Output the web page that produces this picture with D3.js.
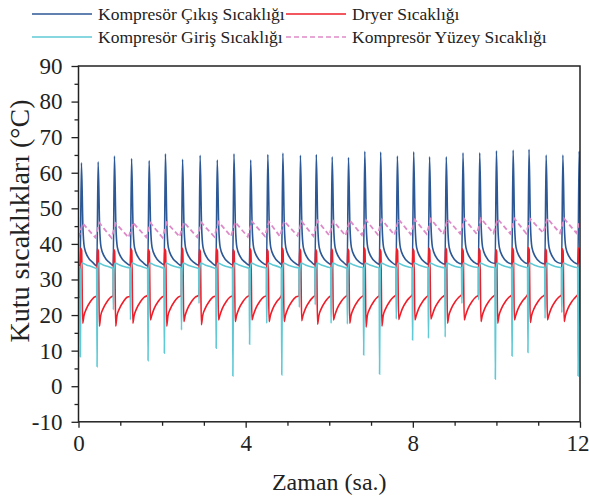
<!DOCTYPE html>
<html><head><meta charset="utf-8">
<script src="https://cdn.jsdelivr.net/npm/d3@7"></script>
<style>
body{margin:0;background:#fff}
svg{display:block}
text{font-family:"Liberation Serif","Times New Roman",serif;fill:#222}
</style>
</head><body>
<svg id="c" width="589" height="496"></svg>
<script>
// ---- data ----
const seriesNames = ["Kompresör Çıkış Sıcaklığı","Dryer Sıcaklığı","Kompresör Giriş Sıcaklığı","Kompresör Yüzey Sıcaklığı"];
const xTicks = [0,4,8,12];
const yTicks = [-10,0,10,20,30,40,50,60,70,80,90];
// compressor start time of each cycle (hours)
const cycleStart = [0.04,0.44,0.83,1.24,1.66,2.05,2.46,2.88,3.29,3.69,4.09,4.50,4.86,5.28,5.66,6.04,6.43,6.82,7.20,7.60,7.99,8.37,8.77,9.17,9.57,9.97,10.37,10.75,11.16,11.56,11.95];
// Kompresör Çıkış: peak per cycle, value just before each start
const outletPeak = [62.8,63.1,64.7,64.0,63.4,65.3,63.8,64.9,63.6,65.3,63.6,65.1,65.5,64.9,65.1,64.5,64.3,66.0,65.8,64.7,65.9,64.5,64.5,65.6,65.6,66.2,66.4,66.6,65.0,65.0,66.1];
const outletBase = [34.0,33.8,33.9,34.0,33.8,34.1,33.9,34.0,33.9,34.1,34.0,34.1,34.2,34.0,34.1,34.2,34.0,34.3,34.2,34.1,34.3,34.2,34.3,34.4,34.3,34.5,34.4,34.5,34.4,34.5,34.4];
const outletRise = 0.03;
const outletTailDt = [0.065,0.10,0.18,0.30];
const outletTailV  = [45.0,39.0,36.4,34.8];
// Dryer
const dryerTop  = [38.8,38.6,38.5,38.7,38.4,38.6,38.9,38.5,38.6,38.4,38.7,38.5,38.8,38.6,38.5,38.7,38.6,38.9,38.5,38.7,38.6,38.8,38.9,38.6,38.7,38.5,38.8,39.0,38.6,38.7,38.8];
const dryerMin  = [17.7,16.9,16.9,17.7,18.6,16.9,18.2,17.3,18.6,18.2,18.6,18.2,18.2,18.4,17.4,18.6,17.7,16.6,16.9,18.8,18.6,18.9,17.7,18.6,18.2,17.7,18.6,17.9,18.6,18.2,16.8];
const dryerBase = [25.0,25.4,25.5,25.3,25.6,25.4,25.5,25.6,25.4,25.5,25.6,25.5,25.7,25.4,25.6,25.5,25.7,25.6,25.5,25.7,25.8,25.6,25.7,25.8,25.6,25.8,25.7,25.9,25.8,25.7,25.9];
const dryerSpikeDt = [0.008,0.035,0.06];
const dryerRecDt = [0.09,0.15,0.25,0.33];
const dryerRecV  = [19.8,21.8,23.9,25.0];
// Kompresör Giriş
const inletDip  = [8.3,5.5,21.5,18.7,7.2,9.3,15.8,23.3,10.7,2.9,11.8,17.7,3.2,22.2,22.9,17.7,17.5,8.8,3.4,18.9,13.0,13.5,13.8,23.3,24.3,2.0,8.5,9.5,19.1,20.7,2.9];
const inletBase = [33.1,33.0,33.1,33.2,33.0,33.1,33.2,33.1,33.0,33.2,33.1,33.2,33.1,33.2,33.3,33.2,33.1,33.3,33.2,33.3,33.2,33.3,33.2,33.3,33.4,33.3,33.2,33.3,33.4,33.3,33.3];
const inletAfterDt = [0.02,0.045,0.15,0.30];
const inletAfterV  = [32.8,34.6,34.1,33.5];
// Kompresör Yüzey
const surfacePeak   = [45.8,45.9,45.8,46.0,45.9,46.0,46.1,46.0,46.2,46.1,46.3,46.2,46.4,46.3,46.5,46.4,46.6,46.7,46.8,46.9,46.8,47.0,46.9,47.0,47.1,47.0,47.1,47.0,47.2,47.1,47.0];
const surfaceTrough = [41.7,41.8,41.7,41.8,41.9,41.8,42.0,41.9,42.0,42.1,42.0,42.2,42.1,42.3,42.2,42.4,42.3,42.5,42.6,42.5,42.7,42.8,42.7,42.9,42.8,43.0,42.9,43.0,43.1,43.0,43.1];

const colors = {outlet:"#2c5896", dryer:"#ee1f2a", inlet:"#5fcad6", surface:"#de8ac8"};

// ---- build point lists from the read values ----
const outletPts = [[0, outletBase[0]]];
const dryerPts = [[0, dryerBase[0]]];
const inletPts = [[0, inletBase[0]]];
const surfacePts = [[0, surfaceTrough[0]]];
cycleStart.forEach((t0,i)=>{
  outletPts.push([t0, outletBase[i]], [t0+outletRise, outletPeak[i]]);
  outletTailDt.forEach((dt,k)=>outletPts.push([t0+dt, outletTailV[k]]));
  dryerPts.push([t0, dryerBase[i]], [t0+dryerSpikeDt[0], dryerTop[i]], [t0+dryerSpikeDt[1], dryerTop[i]-0.6], [t0+dryerSpikeDt[2], dryerMin[i]]);
  dryerRecDt.forEach((dt,k)=>dryerPts.push([t0+dt, dryerRecV[k]]));
  inletPts.push([t0-0.006, inletBase[i]], [t0+0.004, inletDip[i]]);
  inletAfterDt.forEach((dt,k)=>inletPts.push([t0+dt, inletAfterV[k]]));
  if (i>0) surfacePts.push([t0-0.04, surfaceTrough[i]]);
  surfacePts.push([t0+0.06, surfacePeak[i]]);
});

// ---- chart ----
const svg = d3.select("#c");
const x = d3.scaleLinear().domain([0,12]).range([78.5,580]);
const y = d3.scaleLinear().domain([-10,90]).range([421.8,66]);

svg.append("clipPath").attr("id","clip").append("rect")
  .attr("x",x(0)).attr("y",y(90)).attr("width",x(12)-x(0)).attr("height",y(-10)-y(90));

const g = svg.append("g").attr("clip-path","url(#clip)");
const lineS = d3.line().x(d=>x(d[0])).y(d=>y(d[1])).curve(d3.curveMonotoneX);
const lineL = d3.line().x(d=>x(d[0])).y(d=>y(d[1]));

g.append("path").attr("d",lineS(outletPts)).attr("fill","none").attr("stroke",colors.outlet).attr("stroke-width",1.6);
g.append("path").attr("d",lineS(dryerPts)).attr("fill","none").attr("stroke",colors.dryer).attr("stroke-width",1.6);
g.append("path").attr("d",lineS(inletPts)).attr("fill","none").attr("stroke",colors.inlet).attr("stroke-width",1.6);
g.append("path").attr("d",lineL(surfacePts)).attr("fill","none").attr("stroke",colors.surface).attr("stroke-width",1.8).attr("stroke-dasharray","5,3");

// axes
const fmt = d => String(d);
const yMinor = d3.range(-10,91,5).filter(v=>v%10!==0);
svg.append("g").attr("transform",`translate(${x(0)},0)`)
  .call(d3.axisLeft(y).tickValues(yTicks).tickSize(7).tickPadding(9).tickFormat(fmt));
svg.append("g").attr("transform",`translate(${x(0)},0)`)
  .call(d3.axisLeft(y).tickValues(yMinor).tickSize(4).tickFormat(""));
const bx = svg.append("g").attr("transform",`translate(0,${y(-10)})`)
  .call(d3.axisBottom(x).tickValues(xTicks).tickSize(6).tickPadding(7).tickFormat(fmt));
svg.append("g").attr("transform",`translate(0,${y(-10)})`)
  .call(d3.axisBottom(x).tickValues(d3.range(0,13,1).filter(v=>v%4!==0)).tickSize(4).tickFormat(""));
svg.selectAll(".domain").remove();
svg.selectAll(".tick line").attr("stroke","#222").attr("stroke-width",1.3);
svg.selectAll(".tick text").attr("font-size",23).attr("fill","#222");
// keep the last x label inside the canvas
bx.selectAll(".tick text").filter(d=>d===12).attr("text-anchor","end").attr("x",9);

svg.append("rect").attr("x",x(0)).attr("y",y(90)).attr("width",x(12)-x(0)).attr("height",y(-10)-y(90))
  .attr("fill","none").attr("stroke","#222").attr("stroke-width",1.5);

svg.append("text").attr("x",(x(0)+x(12))/2).attr("y",490).attr("text-anchor","middle")
  .attr("font-size",24).text("Zaman (sa.)");
svg.append("text").attr("transform","translate(29,221) rotate(-90)").attr("text-anchor","middle")
  .attr("font-size",28).text("Kutu sıcaklıkları (°C)");

// legend
const leg = [
  {name:seriesNames[0], c:colors.outlet, dash:null, lx:32, ly:14},
  {name:seriesNames[1], c:colors.dryer, dash:null, lx:286, ly:14},
  {name:seriesNames[2], c:colors.inlet, dash:null, lx:32, ly:37},
  {name:seriesNames[3], c:colors.surface, dash:"5,3", lx:286, ly:37}
];
leg.forEach(l=>{
  svg.append("line").attr("x1",l.lx).attr("x2",l.lx+60).attr("y1",l.ly).attr("y2",l.ly)
    .attr("stroke",l.c).attr("stroke-width",1.6).attr("stroke-dasharray",l.dash);
  svg.append("text").attr("x",l.lx+66).attr("y",l.ly+5.5).attr("font-size",17.5).text(l.name);
});
</script>
</body></html>
